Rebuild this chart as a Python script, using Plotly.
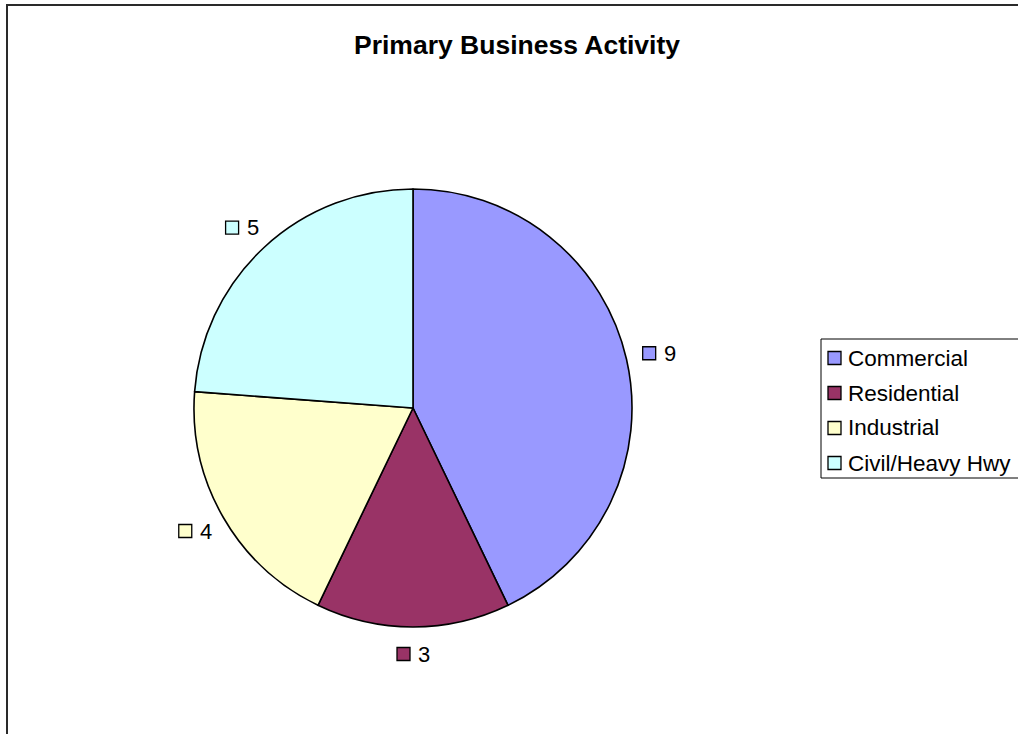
import math
import plotly.graph_objects as go

# ---- data ----
categories = ["Commercial", "Residential", "Industrial", "Civil/Heavy Hwy"]
values = [9, 3, 4, 5]
colors = ["#9999FF", "#993366", "#FFFFCC", "#CCFFFF"]
title_text = "Primary Business Activity"

# ---- layout constants (pixels, in screen coordinates) ----
W, H = 1018, 734
CX, CY, R = 413, 408, 219
LABEL_R = 238          # distance of label anchor from pie centre
LABEL_HW, LABEL_HH = 14, 8  # half size of the label box (square + digit)
FONT = "Liberation Sans, Arial, sans-serif"


def px(x):
    return x / W


def py(y):
    return 1 - y / H


fig = go.Figure()
fig.add_trace(go.Pie(
    labels=categories,
    values=values,
    marker=dict(colors=colors, line=dict(color="black", width=1.6)),
    sort=False,
    direction="clockwise",
    rotation=0,
    textinfo="none",
    hoverinfo="label+value",
    showlegend=False,
    domain=dict(x=[px(CX - R), px(CX + R)], y=[py(CY + R), py(CY - R)]),
))

shapes = []
annotations = []

# outer chart frame
shapes.append(dict(type="rect", xref="paper", yref="paper",
                   x0=px(7), x1=px(1040), y0=py(760), y1=py(5),
                   line=dict(color="#2a2a2a", width=2), layer="above"))

# data labels around the pie (positions from slice mid-angles)
total = sum(values)
cum = 0
SQ = 13
for cat, val, col in zip(categories, values, colors):
    mid = (cum + val / 2) / total * 2 * math.pi
    cum += val
    ux, uy = math.sin(mid), -math.cos(mid)
    lx = CX + LABEL_R * ux + LABEL_HW * ux
    ly = CY + LABEL_R * uy + LABEL_HH * uy
    sx0 = lx - 16
    shapes.append(dict(type="rect", xref="paper", yref="paper",
                       x0=px(sx0), x1=px(sx0 + SQ),
                       y0=py(ly + SQ / 2), y1=py(ly - SQ / 2),
                       fillcolor=col, line=dict(color="black", width=1.3),
                       layer="above"))
    annotations.append(dict(xref="paper", yref="paper", x=px(lx + 3), y=py(ly),
                            xanchor="left", yanchor="middle", showarrow=False,
                            text=str(val), font=dict(family=FONT, size=22, color="black")))

# legend box
shapes.append(dict(type="rect", xref="paper", yref="paper",
                   x0=px(821), x1=px(1040), y0=py(478), y1=py(339),
                   line=dict(color="black", width=1), fillcolor="white", layer="below"))
row_y = [358, 393, 428, 463]
for cat, col, ry in zip(categories, colors, row_y):
    shapes.append(dict(type="rect", xref="paper", yref="paper",
                       x0=px(828), x1=px(841), y0=py(ry + 6.5), y1=py(ry - 6.5),
                       fillcolor=col, line=dict(color="black", width=1.3), layer="above"))
    annotations.append(dict(xref="paper", yref="paper", x=px(846), y=py(ry),
                            xanchor="left", yanchor="middle", showarrow=False,
                            text=cat, font=dict(family=FONT, size=22.5, color="black")))

# title
annotations.append(dict(xref="paper", yref="paper", x=px(517), y=py(45),
                        xanchor="center", yanchor="middle", showarrow=False,
                        text="<b>" + title_text + "</b>",
                        font=dict(family=FONT, size=26.5, color="black")))

fig.update_layout(
    width=W, height=H,
    margin=dict(l=0, r=0, t=0, b=0),
    paper_bgcolor="white",
    plot_bgcolor="white",
    showlegend=False,
    shapes=shapes,
    annotations=annotations,
)

fig.write_html(
    "out.html",
    config={"displayModeBar": False},
    post_script="document.body.style.margin='0px';document.body.style.overflow='hidden';",
)
